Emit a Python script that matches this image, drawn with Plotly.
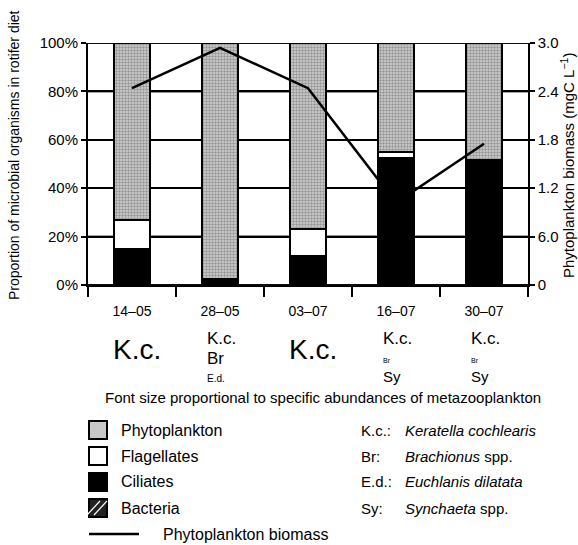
import plotly.graph_objects as go

# ---------------- data ----------------
dates = ["14–05", "28–05", "03–07", "16–07", "30–07"]
bacteria = [0, 0, 0, 0, 0]
ciliates = [15, 2.5, 12, 52.5, 51.5]
flagellates = [12, 0, 11, 2.5, 0]
phytoplankton = [73, 97.5, 77, 45, 48.5]
biomass = [2.44, 2.94, 2.44, 1.02, 1.75]

pct_ticks = [0, 20, 40, 60, 80, 100]
pct_ticklabels = ["0%", "20%", "40%", "60%", "80%", "100%"]
bio_ticks = [0, 0.6, 1.2, 1.8, 2.4, 3.0]
bio_ticklabels = ["0", "6.0", "1.2", "1.8", "2.4", "3.0"]

# species font sizes (proportional to abundance); 0 = absent
kc_size = [28, 17, 28, 17, 17]
br_size = [0, 17, 0, 7, 7]
ed_size = [0, 10, 0, 0, 0]
sy_size = [0, 0, 0, 15, 15]

legend_items = ["Phytoplankton", "Flagellates", "Ciliates", "Bacteria"]
abbrevs = ["K.c.:", "Br:", "E.d.:", "Sy:"]
species_names = ["<i>Keratella cochlearis</i>", "<i>Brachionus</i> spp.",
                 "<i>Euchlanis dilatata</i>", "<i>Synchaeta</i> spp."]

FONT = "Liberation Sans, Arial, sans-serif"
W, H = 578, 545
L, R, T, B = 88, 50, 43, 260
BARGAP = 0.59

# category positions on a numeric axis (one slot per date)
xpos = list(range(len(dates)))
x_lo, x_hi = xpos[0] - 0.5, xpos[-1] + 0.5


def px(x):
    return (x - L) / (W - L - R)


def py(y):
    return (H - B - y) / (H - T - B)


fig = go.Figure()
# horizontal gridlines (base subplot, beneath the bar overlay)
gx, gy = [], []
for v in pct_ticks:
    gx += [x_lo, x_hi, None]
    gy += [v, v, None]
fig.add_scatter(x=gx, y=gy, mode="lines", line=dict(color="black", width=1.5),
                hoverinfo="skip", showlegend=False, cliponaxis=False)

line_style = dict(color="black", width=2)
fig.add_bar(x=xpos, y=bacteria, name="Bacteria", yaxis="y2",
            marker=dict(color="#222222", line=dict(color="black", width=0)))
fig.add_bar(x=xpos, y=ciliates, name="Ciliates", yaxis="y2",
            marker=dict(color="black", line=line_style))
fig.add_bar(x=xpos, y=flagellates, name="Flagellates", yaxis="y2",
            marker=dict(color="white", line=line_style))
fig.add_bar(x=xpos, y=phytoplankton, name="Phytoplankton", yaxis="y2",
            marker=dict(color="#c8c8c8", line=line_style,
                        pattern=dict(shape=".", fgcolor="#555555", bgcolor="#d2d2d2",
                                     size=3, solidity=0.5)))
fig.add_scatter(x=xpos, y=biomass, yaxis="y3", mode="lines",
                line=dict(color="black", width=2.5), name="Phytoplankton biomass")

fig.update_layout(
    width=W, height=H,
    margin=dict(l=L, r=R, t=T, b=B, autoexpand=False),
    barmode="stack", bargap=BARGAP,
    showlegend=False,
    plot_bgcolor="rgba(0,0,0,0)", paper_bgcolor="white",
    font=dict(family=FONT, color="black", size=14),
    xaxis=dict(type="linear", range=[x_lo, x_hi], tickmode="array",
               tickvals=xpos, ticktext=dates,
               showline=True, linecolor="black", linewidth=2,
               ticks="outside", ticklen=10, tickcolor="rgba(0,0,0,0)",
               tickfont=dict(size=14), ticklabelstandoff=2,
               minor=dict(tickmode="linear", tick0=x_lo, dtick=1, ticks="outside",
                          ticklen=10, tickwidth=1.5, tickcolor="black", showgrid=False),
               showgrid=False, zeroline=False, automargin=False),
    yaxis=dict(range=[0, 100], tickmode="array", tickvals=pct_ticks, ticktext=pct_ticklabels,
               showline=True, linecolor="black", linewidth=2,
               ticks="outside", ticklen=5, tickwidth=1.5, tickcolor="black",
               showgrid=True, gridcolor="black", gridwidth=1.5,
               zeroline=False, tickfont=dict(size=15), automargin=False),
    yaxis2=dict(range=[0, 100], overlaying="y", visible=False, showgrid=False),
    yaxis3=dict(range=[0, 3], overlaying="y", side="right",
                tickmode="array", tickvals=bio_ticks, ticktext=bio_ticklabels,
                showline=True, linecolor="black", linewidth=1.5,
                ticks="outside", ticklen=5, tickwidth=1.5, tickcolor="black",
                showgrid=False, zeroline=False, tickfont=dict(size=15), automargin=False),
)

shapes = []
# gridline segments in the gaps between bars (drawn above, never crossing a bar)
half = (1 - BARGAP) / 2
for v in pct_ticks:
    edges = [x_lo]
    for xp in xpos:
        edges += [xp - half, xp + half]
    edges.append(x_hi)
    for a, b in zip(edges[0::2], edges[1::2]):
        shapes.append(dict(type="line", xref="x", yref="y", x0=a, x1=b, y0=v, y1=v,
                           line=dict(color="black", width=1.5), layer="above"))

ann = []
# axis titles
ann.append(dict(text="Proportion of microbial organisms in rotifer diet",
                xref="paper", yref="paper", x=px(14), y=py(155), textangle=-90,
                showarrow=False, font=dict(size=14), xanchor="center", yanchor="middle"))
ann.append(dict(text="Phytoplankton biomass (mgC L<sup>−1</sup>)",
                xref="paper", yref="paper", x=px(567), y=py(166), textangle=-90,
                showarrow=False, font=dict(size=15), xanchor="center", yanchor="middle"))

# species under each date
for i, xp in enumerate(xpos):
    multi = (br_size[i] + ed_size[i] + sy_size[i]) > 0
    if not multi:
        ann.append(dict(text="K.c.", x=xp, xref="x", yref="paper", y=py(349),
                        showarrow=False, font=dict(size=kc_size[i]),
                        xanchor="center", yanchor="middle", xshift=5))
    else:
        rows = [("K.c.", kc_size[i], 338)]
        if br_size[i]:
            rows.append(("Br", br_size[i], 358 if ed_size[i] else 360))
        if ed_size[i]:
            rows.append(("E.d.", ed_size[i], 378))
        if sy_size[i]:
            rows.append(("Sy", sy_size[i], 376))
        for txt, sz, yy in rows:
            ann.append(dict(text=txt, x=xp, xref="x", yref="paper", y=py(yy),
                            showarrow=False, font=dict(size=sz),
                            xanchor="left", yanchor="middle", xshift=-15))

ann.append(dict(text="Font size proportional to specific abundances of metazooplankton",
                xref="paper", yref="paper", x=px(323), y=py(397), showarrow=False,
                font=dict(size=15), xanchor="center", yanchor="middle"))

# legend
row_y = [430, 456, 482, 508]
fills = ["#c8c8c8", "white", "black", "#222222"]
for i, name in enumerate(legend_items):
    yc = row_y[i]
    shapes.append(dict(type="rect", xref="paper", yref="paper",
                       x0=px(89), x1=px(107), y0=py(yc + 9), y1=py(yc - 9),
                       fillcolor=fills[i], line=dict(color="black", width=2)))
    ann.append(dict(text=name, xref="paper", yref="paper", x=px(119), y=py(yc),
                    showarrow=False, font=dict(size=16), xanchor="left", yanchor="middle"))
    ann.append(dict(text=abbrevs[i], xref="paper", yref="paper", x=px(359), y=py(yc),
                    showarrow=False, font=dict(size=15), xanchor="left", yanchor="middle"))
    ann.append(dict(text=species_names[i], xref="paper", yref="paper", x=px(403), y=py(yc),
                    showarrow=False, font=dict(size=15), xanchor="left", yanchor="middle"))
# hatch for bacteria swatch
for off in (-4, 3):
    shapes.append(dict(type="line", xref="paper", yref="paper",
                       x0=px(91 + off), y0=py(508 + 7), x1=px(104 + off), y1=py(508 - 7),
                       line=dict(color="white", width=1.2)))
# biomass line legend
shapes.append(dict(type="line", xref="paper", yref="paper",
                   x0=px(89), x1=px(139), y0=py(534), y1=py(534),
                   line=dict(color="black", width=2.5)))
ann.append(dict(text="Phytoplankton biomass", xref="paper", yref="paper", x=px(161), y=py(534),
                showarrow=False, font=dict(size=16), xanchor="left", yanchor="middle"))

fig.update_layout(annotations=ann, shapes=shapes)
fig.write_html("out.html", config={"displayModeBar": False},
               post_script="document.body.style.margin='0';document.body.style.padding='0';")
